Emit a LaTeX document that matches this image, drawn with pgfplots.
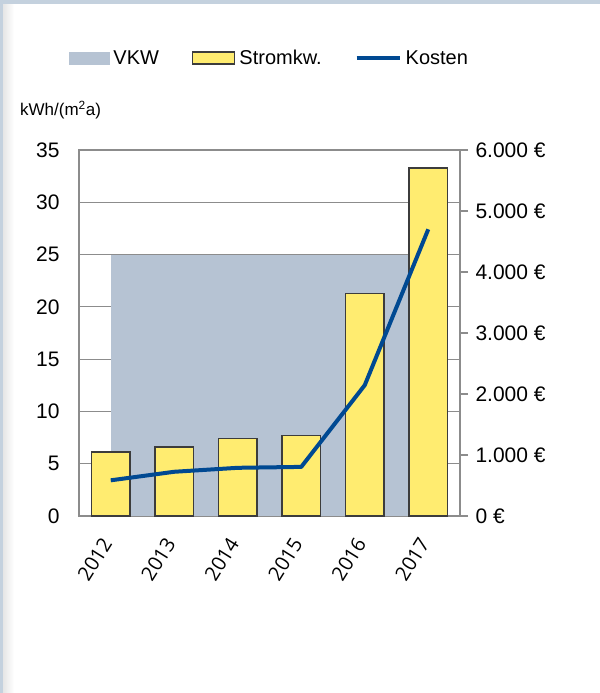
\documentclass[border=0pt]{standalone}
\usepackage{fontspec}
\setmainfont{Liberation Sans}
\newfontfamily\yearfont{Open Sans}
\usepackage{pgfplots}
\pgfplotsset{compat=1.18}

\definecolor{vkw}{RGB}{182,195,211}
\definecolor{strom}{RGB}{255,236,112}
\definecolor{bard}{RGB}{60,60,60}
\definecolor{kosten}{RGB}{0,73,146}
\definecolor{gridg}{RGB}{140,140,140}
\definecolor{frameb}{RGB}{196,209,222}

\pgfplotsset{
  twin/.style={
    scale only axis, width=381bp, height=366bp,
    xmin=-0.5, xmax=5.5,
    axis line style={gridg, line width=1.2bp},
  }
}

\begin{document}
\begin{tikzpicture}[x=1bp,y=1bp]
% panel, axis box lower left corner sits at (0,0)
\fill[white] (-79,-177) rectangle (521,516);
\shade[left color=black!10, right color=white] (-76,-177) rectangle (-65,512);
\fill[frameb] (-79,512) rectangle (521,516);
\fill[frameb] (-79,-177) rectangle (-76,516);

\node[anchor=base west, inner sep=0, font=\fontsize{17bp}{20bp}\selectfont] at (-59,400) {kWh/(m\textsuperscript{2}a)};

% left axis: area + bars
\begin{axis}[
    twin,
    ymin=0, ymax=35,
    ytick={0,5,...,35},
    xtick={0,...,5},
    xticklabels={2012,2013,2014,2015,2016,2017},
    major tick length=0,
    ymajorgrids,
    grid style={gridg, line width=1.2bp},
    /pgf/number format/assume math mode=true,
    yticklabel style={font=\fontsize{21bp}{24bp}\selectfont, xshift=-16bp},
    xticklabel style={font=\yearfont\fontsize{20bp}{24bp}\selectfont, xshift=-2bp, yshift=-21bp, rotate=58, anchor=east},
]
\addplot[fill=vkw, draw=none] coordinates {(0,25) (5,25)} \closedcycle;
\addplot[ybar, bar width=0.6, fill=strom, draw=bard, line width=1.5bp] coordinates {
    (0,6.1) (1,6.6) (2,7.4) (3,7.7) (4,21.3) (5,33.3)
};
\end{axis}

% right axis: costs
\begin{axis}[
    twin,
    ymin=0, ymax=6000,
    axis x line=none,
    axis y line*=right,
    ytick={0,1000,...,6000},
    scaled y ticks=false,
    tick align=outside,
    major tick length=8bp,
    tick style={gridg, line width=1.2bp},
    yticklabel={\pgfmathprintnumber[assume math mode=true,1000 sep={.}]{\tick}~€},
    yticklabel style={font=\fontsize{21bp}{24bp}\selectfont, xshift=4bp},
    legend columns=3,
    legend style={at={(0.5,1.251)}, anchor=center, draw=none, fill=none,
        font=\fontsize{20bp}{24bp}\selectfont,
        nodes={inner sep=2bp},
        /tikz/every odd column/.append style={column sep=2bp},
        /tikz/every even column/.append style={column sep=31bp}},
]
\addlegendimage{legend image code/.code={\fill[vkw] (0bp,-6bp) rectangle (40bp,6bp);}}
\addlegendentry{VKW}
\addlegendimage{legend image code/.code={\draw[fill=strom, draw=bard, line width=1.5bp] (0bp,-6bp) rectangle (42bp,6bp);}}
\addlegendentry{Stromkw.}
\addplot[kosten, line width=4bp, line join=round,
    legend image code/.code={\draw[kosten, line width=4bp] (0bp,0bp) -- (43bp,0bp);}]
    coordinates {(0,585) (1,725) (2,790) (3,805) (4,2145) (5,4700)};
\addlegendentry{Kosten}
\end{axis}
\end{tikzpicture}
\end{document}
